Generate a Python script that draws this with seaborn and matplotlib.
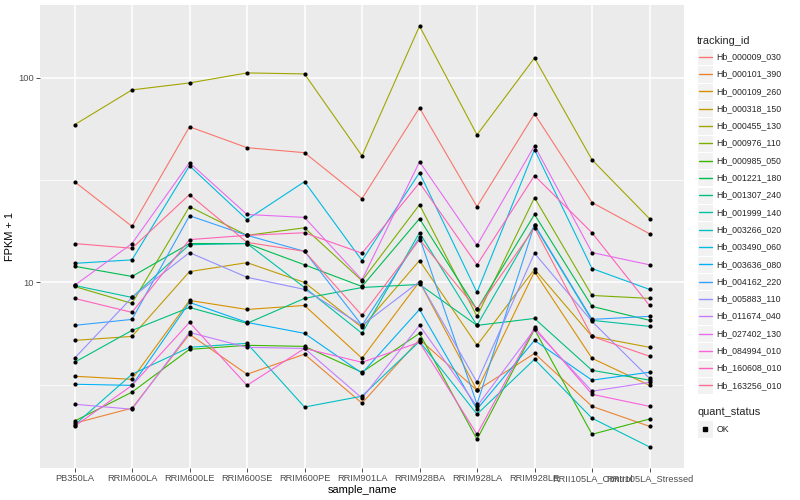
# import modules
import numpy as np
import pandas as pd
import matplotlib
matplotlib.use("Agg")
import matplotlib.pyplot as plt
from matplotlib.patches import Rectangle
from matplotlib.lines import Line2D
import seaborn as sb

# define variables
samples = ["PB350LA", "RRIM600LA", "RRIM600LE", "RRIM600SE", "RRIM600PE", "RRIM901LA",
           "RRIM928BA", "RRIM928LA", "RRIM928LE", "RRII105LA_Control", "RRII105LA_Stressed"]

# FPKM + 1, one value per sample
hb_000009_030 = [31.1, 18.8, 57.7, 45.6, 43.1, 25.7, 71.4, 23.5, 66.7, 24.6, 17.3]
hb_000101_390 = [2.05, 2.43, 5.58, 3.56, 4.46, 2.57, 5.27, 2.97, 4.50, 2.48, 1.98]
hb_000109_260 = [3.48, 3.36, 8.17, 7.38, 7.72, 4.26, 10.1, 2.97, 11.3, 4.26, 3.14]
hb_000318_150 = [5.21, 5.45, 11.3, 12.5, 10.0, 6.03, 12.8, 4.93, 11.6, 5.45, 4.82]
hb_000455_130 = [59.0, 87.4, 94.5, 105.8, 104.6, 41.6, 179.3, 52.7, 125.2, 39.8, 20.5]
hb_000976_110 = [9.56, 7.90, 23.5, 17.0, 18.5, 10.2, 24.0, 6.83, 26.0, 8.64, 8.36]
hb_000985_050 = [2.10, 2.91, 4.71, 4.93, 4.87, 3.64, 5.64, 1.71, 5.90, 1.81, 2.15]
hb_001221_180 = [12.0, 10.7, 15.5, 15.5, 12.2, 9.56, 20.5, 7.38, 21.5, 7.64, 6.53]
hb_001307_240 = [4.07, 5.83, 7.55, 6.31, 8.36, 9.45, 9.78, 6.17, 6.67, 3.72, 3.33]
hb_001999_140 = [9.67, 8.45, 15.3, 15.5, 9.45, 5.64, 17.5, 6.17, 19.0, 6.53, 6.10]
hb_003266_020 = [2.01, 3.56, 4.82, 5.04, 2.46, 2.78, 5.15, 2.27, 4.21, 2.17, 1.57]
hb_003490_060 = [12.4, 12.9, 37.2, 20.3, 31.1, 12.8, 34.4, 8.94, 44.6, 11.7, 9.25]
hb_003636_080 = [3.18, 3.14, 7.99, 6.38, 5.64, 3.60, 7.38, 2.40, 5.21, 3.33, 3.64]
hb_004162_220 = [6.17, 6.60, 21.2, 17.0, 14.2, 6.17, 16.6, 2.54, 19.2, 6.60, 6.83]
hb_005883_110 = [4.26, 8.45, 14.0, 10.6, 9.25, 6.17, 10.1, 3.25, 13.9, 6.45, 3.40]
hb_011674_040 = [2.54, 2.40, 5.70, 4.82, 4.76, 2.72, 6.17, 2.48, 5.90, 2.94, 3.25]
hb_027402_130 = [9.67, 15.5, 38.5, 21.5, 20.8, 10.3, 38.9, 15.2, 46.6, 14.0, 12.2]
hb_084994_010 = [1.98, 3.14, 6.38, 3.14, 4.76, 4.07, 5.10, 1.81, 6.03, 2.84, 2.48]
hb_160608_010 = [8.36, 7.14, 16.2, 17.0, 17.5, 13.9, 30.7, 12.2, 33.3, 17.5, 7.72]
hb_163256_010 = [15.5, 14.7, 26.9, 15.7, 14.2, 6.90, 16.2, 7.38, 18.5, 5.45, 4.36]

genes = ["Hb_000009_030", "Hb_000101_390", "Hb_000109_260", "Hb_000318_150", "Hb_000455_130",
         "Hb_000976_110", "Hb_000985_050", "Hb_001221_180", "Hb_001307_240", "Hb_001999_140",
         "Hb_003266_020", "Hb_003490_060", "Hb_003636_080", "Hb_004162_220", "Hb_005883_110",
         "Hb_011674_040", "Hb_027402_130", "Hb_084994_010", "Hb_160608_010", "Hb_163256_010"]
values = [hb_000009_030, hb_000101_390, hb_000109_260, hb_000318_150, hb_000455_130,
          hb_000976_110, hb_000985_050, hb_001221_180, hb_001307_240, hb_001999_140,
          hb_003266_020, hb_003490_060, hb_003636_080, hb_004162_220, hb_005883_110,
          hb_011674_040, hb_027402_130, hb_084994_010, hb_160608_010, hb_163256_010]
colors = ["#F8766D", "#EA8331", "#D89000", "#C09B00", "#A3A500", "#7CAE00", "#39B600", "#00BB4E",
          "#00BF7D", "#00C1A3", "#00BFC4", "#00BAE0", "#00B0F6", "#35A2FF", "#9590FF", "#C77CFF",
          "#E76BF3", "#FA62DB", "#FF62BC", "#FF6C91"]

# long table for seaborn
rows = []
for g, v in zip(genes, values):
    for s, f in zip(samples, v):
        rows.append({"tracking_id": g, "sample_name": s, "fpkm": f, "quant_status": "OK"})
df = pd.DataFrame(rows)

# ggplot-like theme
sb.set_theme(style="darkgrid", rc={"axes.facecolor": "#EBEBEB", "grid.color": "white",
                                   "figure.facecolor": "white"})
plt.rcParams["font.family"] = ["Liberation Sans", "DejaVu Sans"]

fig = plt.figure(figsize=(8, 5), dpi=100)
ax = fig.add_axes([40 / 800, 1 - 468 / 500, 644 / 800, 463 / 500])

# create plot
sb.lineplot(data=df, x="sample_name", y="fpkm", hue="tracking_id", palette=colors,
            hue_order=genes, sort=False, linewidth=0.8, legend=False, ax=ax, zorder=2)
sb.scatterplot(data=df, x="sample_name", y="fpkm", color="black", s=9, marker="o",
               linewidth=0, legend=False, ax=ax, zorder=3)

# log axis with ggplot expansion
ax.set_yscale("log")
lo = np.log10(df["fpkm"].min())
hi = np.log10(df["fpkm"].max())
pad = 0.05 * (hi - lo)
ax.set_ylim(10 ** (lo - pad), 10 ** (hi + pad))
ax.set_xlim(-0.6, len(samples) - 0.4)
ax.set_yticks([10, 100])
ax.set_yticklabels(["10", "100"])
ax.set_yticks([10 ** 0.5, 10 ** 1.5], minor=True)
ax.yaxis.set_minor_formatter(matplotlib.ticker.NullFormatter())
ax.grid(True, which="major", color="white", linewidth=1.1)
ax.grid(True, which="minor", axis="y", color="white", linewidth=0.55)
ax.tick_params(axis="both", which="major", length=3, width=0.6, color="#333333",
               labelcolor="#4D4D4D", labelsize=6.7, pad=1.5, bottom=True, left=True)
ax.tick_params(axis="y", which="minor", length=0)
for b in ["top", "bottom", "left", "right"]:
    ax.spines[b].set_visible(False)
ax.set_xlabel("sample_name", fontsize=7.9, color="black", labelpad=1.5)
ax.set_ylabel("FPKM + 1", fontsize=7.9, color="black", labelpad=2)

# legend drawn by hand, ggplot style
def px(x, y):
    return x / 800, 1 - y / 500

fig.text(*px(697, 40.7), "tracking_id", fontsize=7.9, va="center", ha="left")
for i, (g, c) in enumerate(zip(genes, colors)):
    cy = 56.7 + i * 17.3
    fig.add_artist(Rectangle(px(697, cy + 8.6), 16 / 800, 17.2 / 500, facecolor="#F2F2F2",
                             edgecolor="white", linewidth=0.8, transform=fig.transFigure))
    x0, y0 = px(698.5, cy)
    x1, _ = px(711.5, cy)
    fig.add_artist(Line2D([x0, x1], [y0, y0], color=c, linewidth=1.0, transform=fig.transFigure))
    fig.text(*px(716.5, cy), g, fontsize=6.3, va="center", ha="left")

fig.text(*px(697, 412.3), "quant_status", fontsize=7.9, va="center", ha="left")
fig.add_artist(Rectangle(px(697, 437.6), 16 / 800, 17.2 / 500, facecolor="#F2F2F2",
                         edgecolor="white", linewidth=0.8, transform=fig.transFigure))
mx, my = px(705, 429)
fig.add_artist(Line2D([mx], [my], marker="s", markersize=2.3, color="black", linestyle="none",
                      transform=fig.transFigure))
fig.text(*px(716.5, 429), "OK", fontsize=6.3, va="center", ha="left")

# save figure
plt.savefig("out.png", dpi=100)
